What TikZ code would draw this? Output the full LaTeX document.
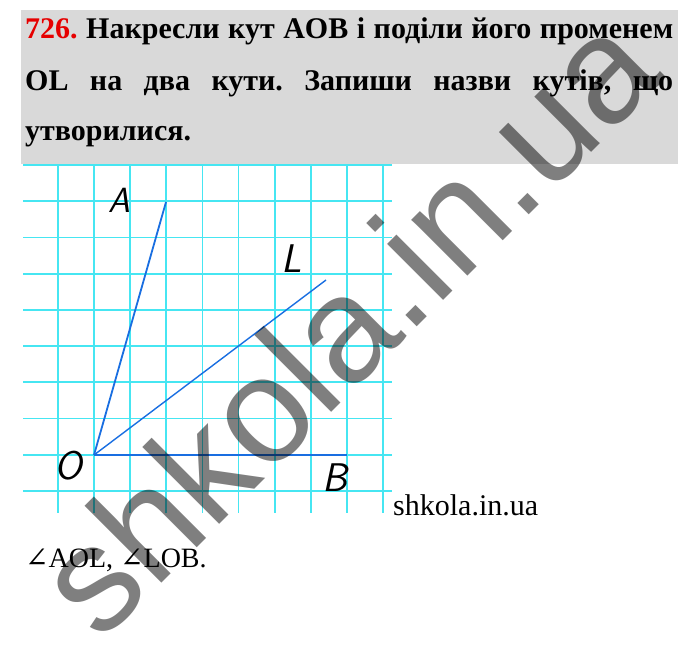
\documentclass[tikz,border=0pt]{standalone}
\usepackage{fontspec}
\setmainfont{Liberation Serif}
\newfontfamily\marksfont{DejaVu Serif}
\newfontfamily\wmfont{Liberation Sans}
\usetikzlibrary{positioning}
\definecolor{gridcyan}{RGB}{70,230,242}
\definecolor{rayblue}{RGB}{25,110,225}
\definecolor{taskgray}{RGB}{217,217,217}
\definecolor{numred}{RGB}{230,0,0}
\frenchspacing

\begin{document}
\begin{tikzpicture}[x=1pt,y=-1pt,
  gridline/.style={gridcyan, line width=1.8pt},
  ray/.style={rayblue, line width=1.8pt},
  pointlabel/.style={font=\fontsize{40}{40}\selectfont\sffamily\itshape, inner sep=0pt},
  taskline/.style={anchor=base west, inner sep=0pt, font=\fontsize{30}{30}\selectfont\bfseries},
  plain/.style={anchor=base west, inner sep=0pt, font=\fontsize{28}{28}\selectfont}]
\useasboundingbox (0,0) rectangle (700,667);
% task text
\fill[taskgray] (21,10) rectangle (678,164);
\node[taskline] (line1) at (25,38) {\makebox[648pt][s]{\textcolor{numred}{726.} Накресли кут AOB і поділи його променем}};
\node[taskline] (line2) at (25,90) {\makebox[648pt][s]{OL на два кути. Запиши назви кутів, що}};
\node[taskline] (line3) at (25,140) {утворилися.};
% squared paper
\foreach \k in {0,...,9} {
  \draw[gridline] ({58+36.1*\k},165) -- ({58+36.1*\k},513);
  \draw[gridline] (23,{165+36.2*\k}) -- (392,{165+36.2*\k});
}
% the angle and its ray
\coordinate (O) at (94,455);
\coordinate (A) at (166,202);
\coordinate (L) at (326,280);
\coordinate (B) at (347,455);
\draw[ray] (O) -- (A);
\draw[ray, line width=1.4pt] (O) -- (L);
\draw[ray, line width=2.6pt] (O) -- (B);
\node[pointlabel, font=\fontsize{35}{35}\selectfont\sffamily\itshape] (labA) at (119,200) {A};
\node[pointlabel] (labL) at (292,259) {L};
\node[pointlabel] (labO) at (68,466) {O};
\node[pointlabel] (labB) at (335,478) {B};
% answer
\node[plain, font=\fontsize{30}{30}\selectfont] (site) at (393,515) {shkola.in.ua};
\node[plain] (answer) at (25,567) {{\marksfont ∠}AOL, {\marksfont ∠}LOB.};
% watermark
\node[rotate=45, anchor=base, inner sep=0pt, font=\wmfont\fontsize{150}{150}\selectfont,
  text=black, text opacity=0.5] (mark) at (384,360) {shkola.in.ua};
\end{tikzpicture}
\end{document}
